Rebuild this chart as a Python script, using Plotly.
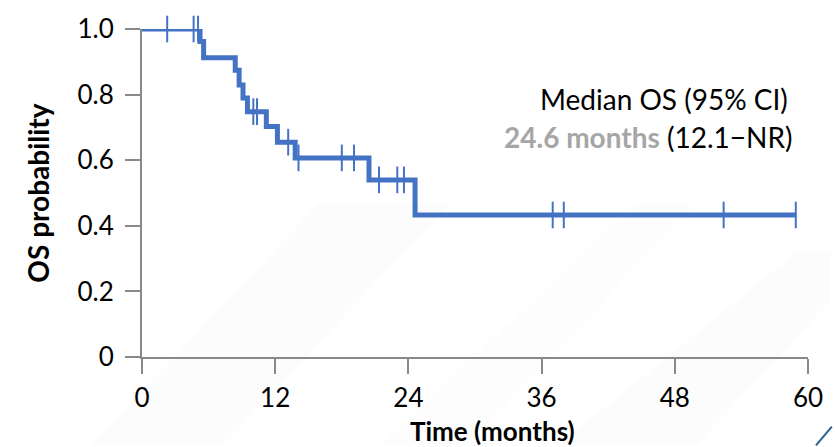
import plotly.graph_objects as go

# Kaplan-Meier overall survival: event times (months) and survival after each step
step_times = [0, 5.23, 5.55, 8.4, 8.75, 9.1, 9.5, 11.2, 12.2, 13.8, 20.45, 24.6, 58.9]
step_surv = [1.0, 0.962, 0.912, 0.874, 0.829, 0.790, 0.748, 0.703, 0.655, 0.607, 0.540, 0.433, 0.433]

# Censored observations (months)
censor_times = [2.27, 4.65, 5.05, 10.03, 10.36, 13.17, 14.1, 18.0, 19.1,
                21.35, 23.0, 23.6, 37.0, 38.0, 52.4, 58.9]

x_ticks = [0, 12, 24, 36, 48, 60]
y_ticks = [0, 0.2, 0.4, 0.6, 0.8, 1.0]
y_tick_labels = ["0", "0.2", "0.4", "0.6", "0.8", "1.0"]

median_os = 24.6
ci_text = "(12.1\u2212NR)"

BLUE = "#4472C4"
AXIS = "#898989"
FONT = "Lato, Carlito, Calibri, sans-serif"


def surv_at(t):
    s = step_surv[0]
    for tt, ss in zip(step_times, step_surv):
        if tt <= t:
            s = ss
    return s


censor_surv = [surv_at(t) for t in censor_times]

fig = go.Figure()

fig.add_trace(go.Scatter(
    x=step_times, y=step_surv, mode="lines",
    line=dict(color=BLUE, width=5, shape="hv"),
    cliponaxis=False, hoverinfo="skip", showlegend=False,
))

fig.add_trace(go.Scatter(
    x=censor_times, y=censor_surv, mode="markers",
    marker=dict(symbol="line-ns", size=19, line=dict(color=BLUE, width=2)),
    cliponaxis=False, hoverinfo="skip", showlegend=False,
))


# faint diagonal bands of the slide background
def px_to_paper(px, py):
    return (px - 142) / 670, (357 - py) / 334


def band(points, color):
    pts = [px_to_paper(*p) for p in points]
    path = "M " + " L ".join(f"{x:.4f},{y:.4f}" for x, y in pts) + " Z"
    return dict(type="path", path=path, xref="paper", yref="paper",
                fillcolor=color, line=dict(width=0), layer="below")


shapes = [
    band([(90, 447), (224, 447), (453, 200), (320, 200)], "rgba(0,0,0,0.012)"),
    band([(560, 447), (700, 447), (835, 300), (835, 250), (800, 250)], "rgba(0,0,0,0.012)"),
    band([(380, 447), (470, 447), (700, 200), (640, 200)], "rgba(0,0,0,0.008)"),
    dict(type="line", xref="paper", yref="paper",
         x0=px_to_paper(820, 447)[0], y0=px_to_paper(820, 447)[1],
         x1=px_to_paper(836, 428)[0], y1=px_to_paper(836, 428)[1],
         line=dict(color="#2F5F8A", width=2)),
]

annotations = [
    dict(text="Median OS (95% CI)", xref="paper", yref="paper",
         x=px_to_paper(667, 94)[0], y=px_to_paper(667, 94)[1],
         xanchor="center", yanchor="middle", showarrow=False,
         font=dict(family=FONT, size=28, color="#000000")),
    dict(text=f"<b><span style='color:#A6A6A6'>{median_os} months</span></b> {ci_text}",
         xref="paper", yref="paper",
         x=px_to_paper(651, 133)[0], y=px_to_paper(651, 133)[1],
         xanchor="center", yanchor="middle", showarrow=False,
         font=dict(family=FONT, size=28, color="#000000")),
    dict(text="<b>Time (months)</b>", xref="paper", yref="paper",
         x=px_to_paper(495, 432)[0], y=px_to_paper(495, 432)[1],
         xanchor="center", yanchor="middle", showarrow=False,
         font=dict(family=FONT, size=26, color="#000000")),
    dict(text="<b>OS probability</b>", xref="paper", yref="paper",
         x=px_to_paper(37, 190)[0], y=px_to_paper(37, 190)[1], textangle=-90,
         xanchor="center", yanchor="middle", showarrow=False,
         font=dict(family=FONT, size=28, color="#000000")),
]

fig.update_layout(
    width=835, height=447, autosize=False,
    margin=dict(l=142, r=23, t=23, b=90),
    paper_bgcolor="#ffffff", plot_bgcolor="rgba(0,0,0,0)",
    shapes=shapes, annotations=annotations,
    font=dict(family=FONT, color="#000000"),
)

fig.update_xaxes(
    range=[0, 60], tickvals=x_ticks, ticks="outside", ticklen=15,
    tickwidth=2, tickcolor=AXIS, showline=True, linecolor=AXIS, linewidth=2,
    showgrid=False, zeroline=False, tickfont=dict(size=26, color="#000000"),
    ticklabelstandoff=2,
)
fig.update_yaxes(
    range=[0, 1], tickvals=y_ticks, ticktext=y_tick_labels, ticks="outside",
    ticklen=15, tickwidth=2, tickcolor=AXIS, showline=True, linecolor=AXIS,
    linewidth=2, showgrid=False, zeroline=False,
    tickfont=dict(size=26, color="#000000"), ticklabelstandoff=6,
)

fig.write_html("out.html")
